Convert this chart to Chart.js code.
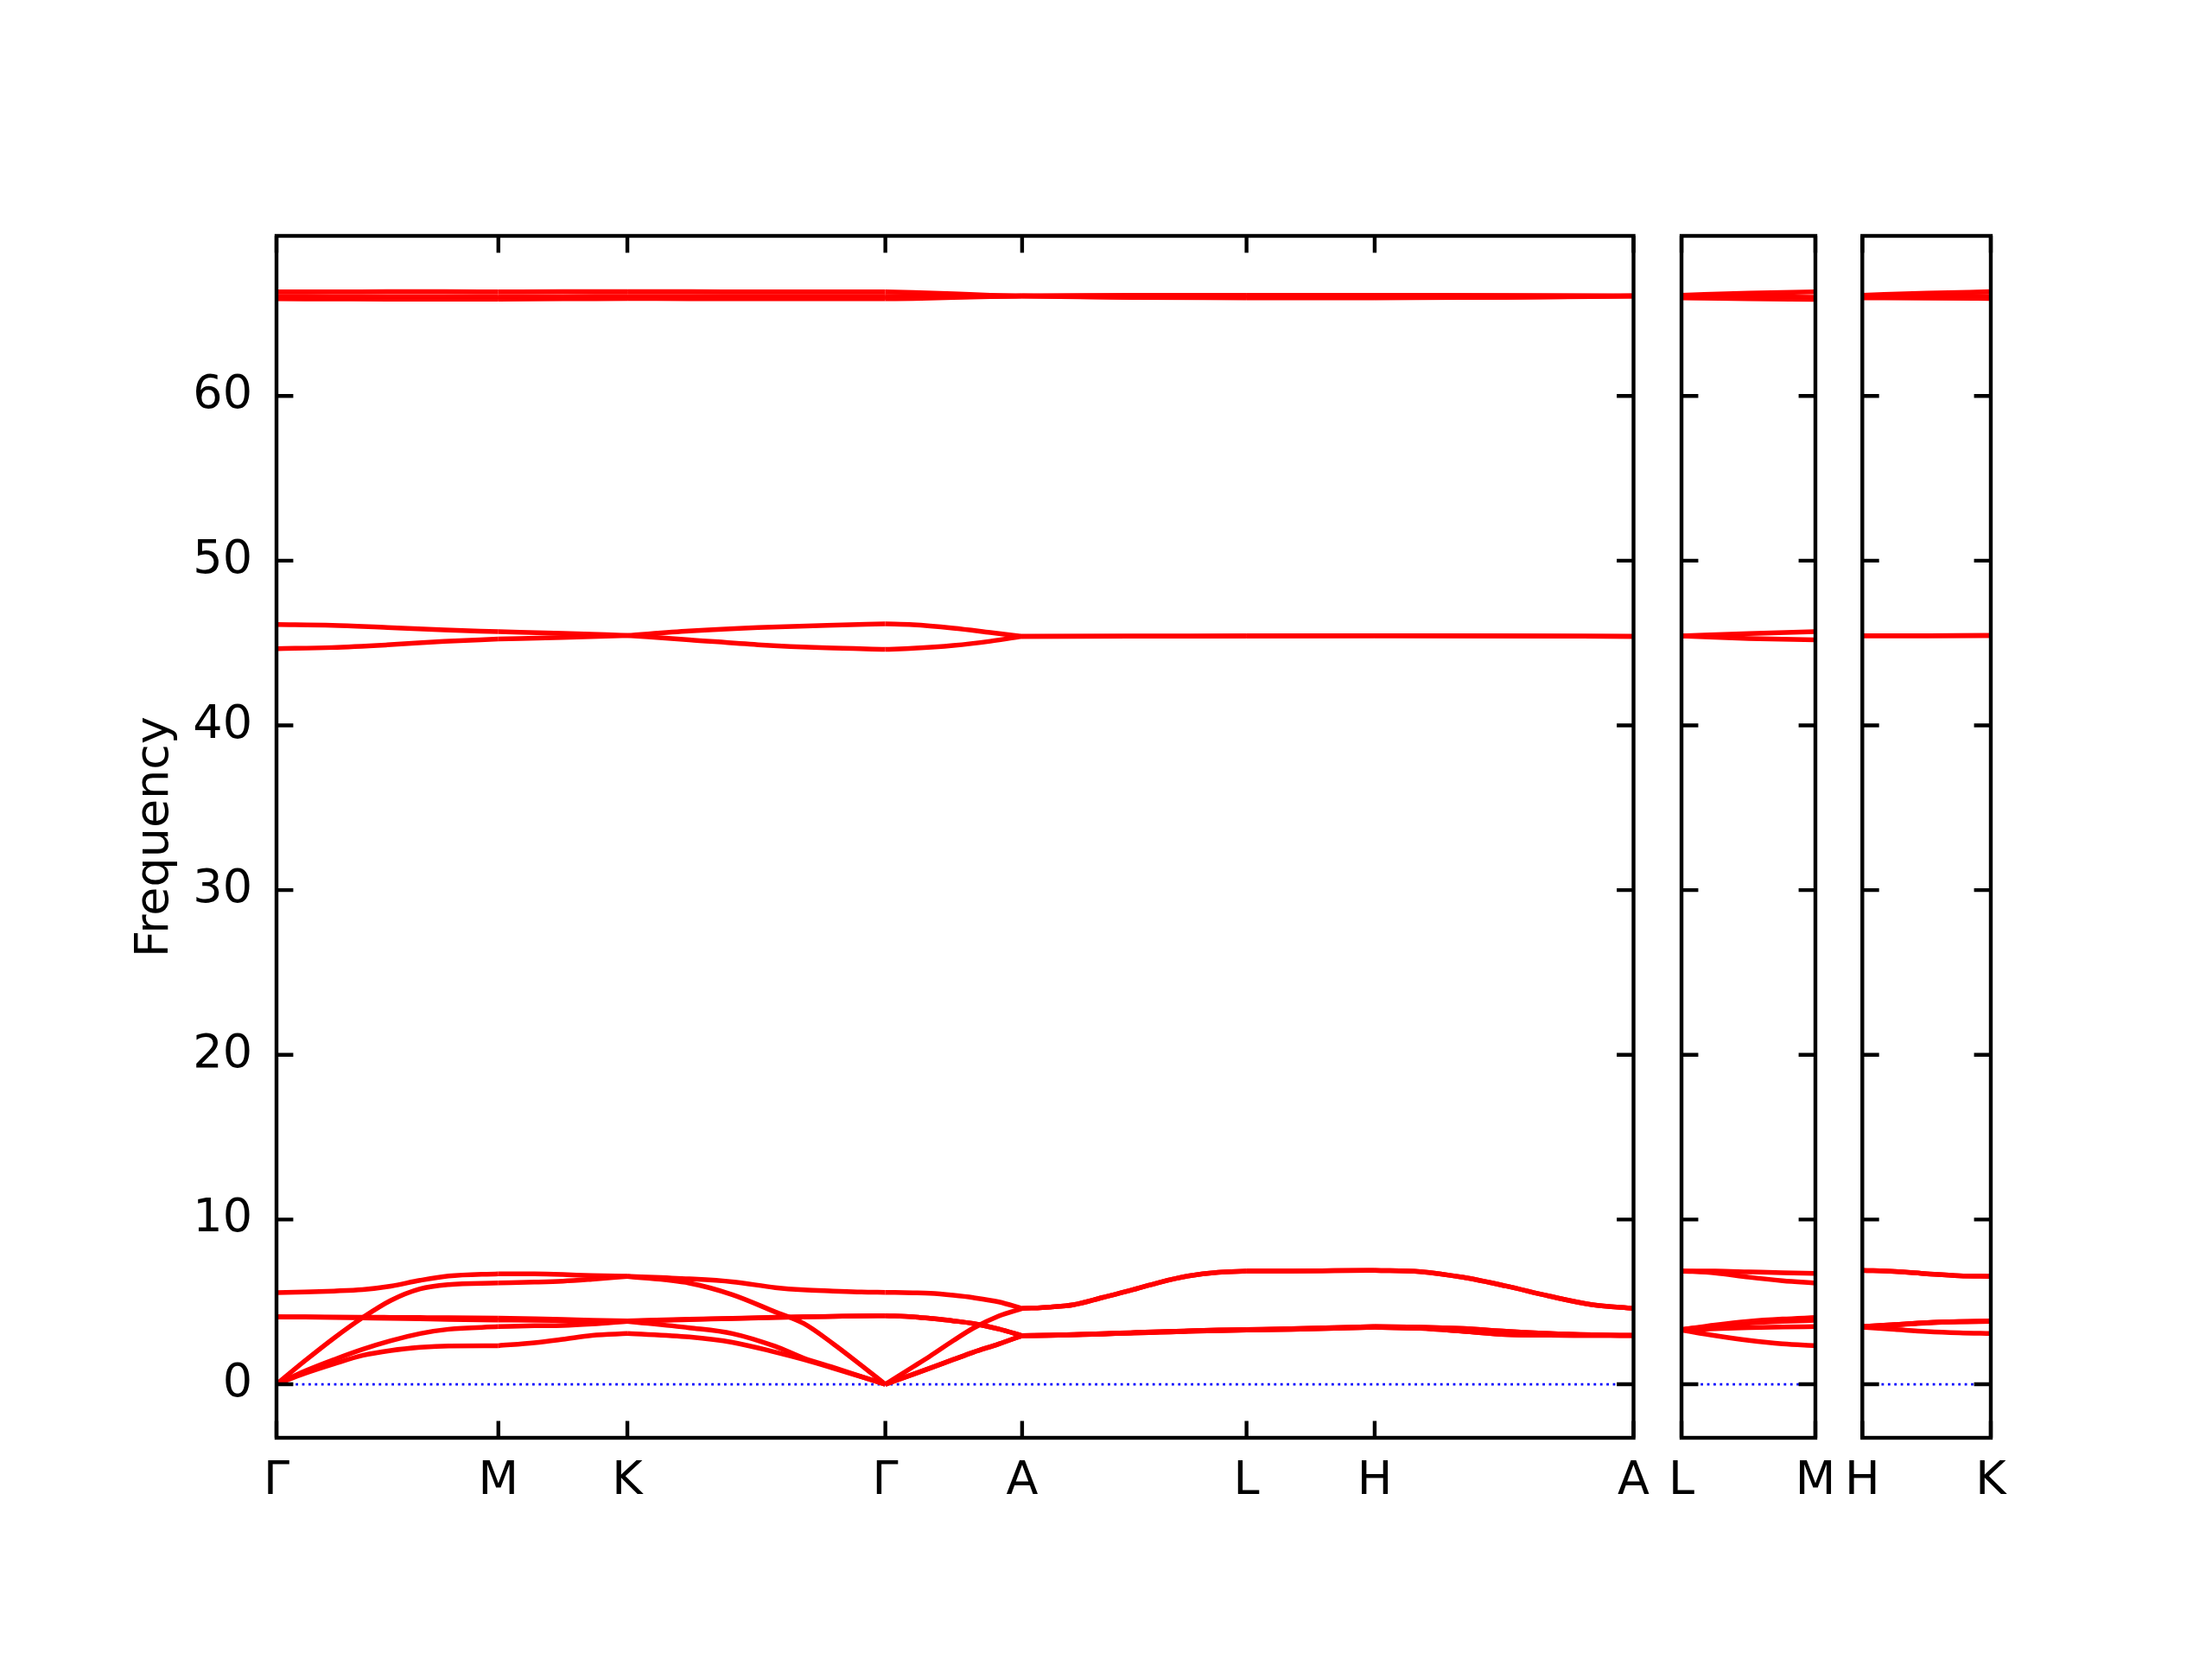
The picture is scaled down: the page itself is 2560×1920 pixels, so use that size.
<!DOCTYPE html>
<html>
<head>
<meta charset="utf-8">
<script src="https://cdn.jsdelivr.net/npm/chart.js@4.4.1/dist/chart.umd.min.js"></script>
<style>
  html, body { margin: 0; padding: 0; background: #fff; }
  #wrap { position: relative; width: 2560px; height: 1920px; background: #fff; }
  canvas { position: absolute; top: 0; }
</style>
</head>
<body>
<div id="wrap">
  <canvas id="p1" width="1920" height="1920" style="left:0px;width:1920px;height:1920px"></canvas>
  <canvas id="p2" width="220" height="1920" style="left:1920px;width:220px;height:1920px"></canvas>
  <canvas id="p3" width="220" height="1920" style="left:2124px;width:220px;height:1920px"></canvas>
</div>
<script>
// y axis
const yTicks = [0, 10, 20, 30, 40, 50, 60];
const yMin = -3.25;
const yMax = 69.72;

// high-symmetry points along the path
const mainTicks = [0, 0.258, 0.408, 0.708, 0.867, 1.128, 1.277, 1.578];
const mainLabels = ['Γ', 'M', 'K', 'Γ', 'A', 'L', 'H', 'A'];
const lmTicks = [0, 0.159];
const lmLabels = ['L', 'M'];
const hkTicks = [0, 0.159];
const hkLabels = ['H', 'K'];

// ---- panel 1 ----
// Γ - M
const gmX = [0, 0.033, 0.067, 0.100, 0.133, 0.167, 0.200, 0.258];
const gmLow = [
  [0, 0.66, 1.24, 1.75, 2.05, 2.24, 2.33, 2.34],
  [0, 0.80, 1.50, 2.12, 2.64, 3.08, 3.34, 3.50],
  [0, 1.42, 2.81, 4.04, 5.09, 5.79, 6.05, 6.15],
  [4.09, 4.09, 4.08, 4.07, 4.06, 4.05, 4.04, 4.02],
  [4.09, 4.08, 4.06, 4.03, 4.00, 3.97, 3.94, 3.90],
  [5.56, 5.60, 5.66, 5.75, 5.96, 6.31, 6.57, 6.71]
];
const gmHighX = [0, 0.065, 0.129, 0.195, 0.258];
const gmHigh = [
  [46.13, 46.08, 45.94, 45.80, 45.69],
  [44.66, 44.73, 44.89, 45.10, 45.25],
  [66.32, 66.32, 66.33, 66.33, 66.32],
  [66.05, 66.04, 66.03, 66.03, 66.03],
  [65.98, 65.97, 65.96, 65.95, 65.95],
  [65.90, 65.89, 65.88, 65.88, 65.88]
];

// M - K
const mkX = [0.258, 0.300, 0.333, 0.367, 0.408];
const mkLow = [
  [2.34, 2.52, 2.73, 2.97, 3.08],
  [3.50, 3.55, 3.57, 3.66, 3.82],
  [6.15, 6.20, 6.26, 6.38, 6.55],
  [4.02, 3.98, 3.94, 3.88, 3.84],
  [3.90, 3.88, 3.86, 3.84, 3.83],
  [6.71, 6.70, 6.66, 6.60, 6.56]
];
const mkHighX = [0.258, 0.333, 0.408];
const mkHigh = [
  [45.69, 45.59, 45.46],
  [45.25, 45.34, 45.46],
  [66.32, 66.33, 66.33],
  [66.03, 66.04, 66.05],
  [65.95, 65.96, 65.98],
  [65.88, 65.90, 65.92]
];

// K - Γ
const kgX = [0.408, 0.480, 0.530, 0.580, 0.613, 0.647, 0.680, 0.708];
const kgLow = [
  [3.08, 2.87, 2.55, 1.95, 1.50, 0.98, 0.45, 0],
  [3.82, 3.43, 3.08, 2.30, 1.59, 1.03, 0.47, 0],
  [6.55, 6.14, 5.44, 4.39, 3.69, 2.47, 1.15, 0],
  [3.84, 3.95, 4.00, 4.07, 4.09, 4.12, 4.15, 4.16],
  [3.83, 3.93, 3.99, 4.06, 4.09, 4.12, 4.15, 4.16],
  [6.56, 6.40, 6.22, 5.87, 5.73, 5.66, 5.60, 5.58]
];
const kgHighX = [0.408, 0.480, 0.560, 0.640, 0.708];
const kgHigh = [
  [45.46, 45.73, 45.94, 46.08, 46.16],
  [45.46, 45.20, 44.90, 44.71, 44.62],
  [66.33, 66.33, 66.32, 66.32, 66.32],
  [66.05, 66.05, 66.05, 66.05, 66.05],
  [65.98, 65.98, 65.98, 65.98, 65.98],
  [65.92, 65.91, 65.90, 65.90, 65.90]
];

// Γ - A
const gaX = [0.708, 0.740, 0.760, 0.787, 0.810, 0.840, 0.867];
const gaLow = [
  [0, 0.60, 0.98, 1.50, 1.94, 2.45, 2.95],
  [0, 0.60, 0.98, 1.50, 1.94, 2.45, 2.95],
  [0, 1.05, 1.71, 2.65, 3.40, 4.15, 4.60],
  [4.16, 4.10, 4.00, 3.85, 3.69, 3.35, 2.95],
  [4.16, 4.10, 4.00, 3.85, 3.69, 3.35, 2.95],
  [5.58, 5.55, 5.52, 5.40, 5.26, 5.00, 4.60]
];
const gaHighX = [0.708, 0.740, 0.787, 0.830, 0.867];
const gaHigh = [
  [46.16, 46.11, 45.90, 45.64, 45.41],
  [44.62, 44.68, 44.85, 45.11, 45.41],
  [66.32, 66.29, 66.21, 66.12, 66.07],
  [66.05, 66.05, 66.06, 66.07, 66.07],
  [65.98, 65.99, 66.02, 66.05, 66.07],
  [65.90, 65.92, 65.98, 66.03, 66.07]
];

// A - L
const alX = [0.867, 0.900, 0.927, 0.960, 0.993, 1.027, 1.060, 1.095, 1.128];
const alLow = [
  [2.95, 2.97, 3.00, 3.05, 3.11, 3.16, 3.21, 3.26, 3.29],
  [2.95, 2.97, 3.00, 3.05, 3.11, 3.16, 3.21, 3.26, 3.29],
  [4.60, 4.69, 4.83, 5.26, 5.70, 6.19, 6.57, 6.80, 6.87],
  [2.95, 2.98, 3.02, 3.07, 3.13, 3.19, 3.24, 3.29, 3.32],
  [2.95, 2.98, 3.02, 3.07, 3.13, 3.19, 3.24, 3.29, 3.32],
  [4.60, 4.69, 4.83, 5.26, 5.70, 6.19, 6.57, 6.80, 6.87]
];
const alHighX = [0.867, 0.997, 1.128];
const alHigh = [
  [45.41, 45.42, 45.43],
  [45.41, 45.42, 45.43],
  [66.07, 66.11, 66.12],
  [66.07, 66.09, 66.10],
  [66.07, 66.00, 65.98],
  [66.07, 65.98, 65.96]
];

// L - H
const lhX = [1.128, 1.180, 1.230, 1.277];
const lhLow = [
  [3.29, 3.33, 3.40, 3.46],
  [3.29, 3.33, 3.40, 3.46],
  [6.87, 6.88, 6.90, 6.92],
  [3.32, 3.37, 3.44, 3.50],
  [3.32, 3.37, 3.44, 3.50],
  [6.87, 6.88, 6.90, 6.92]
];
const lhHighX = [1.128, 1.277];
const lhHigh = [
  [45.43, 45.44],
  [45.43, 45.44],
  [66.12, 66.12],
  [66.10, 66.10],
  [65.98, 65.98],
  [65.96, 65.96]
];

// H - A
const haX = [1.277, 1.330, 1.380, 1.430, 1.480, 1.530, 1.578];
const haLow = [
  [3.46, 3.40, 3.22, 3.02, 2.98, 2.97, 2.96],
  [3.46, 3.40, 3.22, 3.02, 2.98, 2.97, 2.96],
  [6.92, 6.84, 6.49, 5.96, 5.35, 4.83, 4.60],
  [3.50, 3.47, 3.38, 3.22, 3.08, 3.00, 2.96],
  [3.50, 3.47, 3.38, 3.22, 3.08, 3.00, 2.96],
  [6.92, 6.84, 6.49, 5.96, 5.35, 4.83, 4.60]
];
const haHighX = [1.277, 1.430, 1.578];
const haHigh = [
  [45.44, 45.43, 45.41],
  [45.44, 45.43, 45.41],
  [66.12, 66.10, 66.07],
  [66.10, 66.09, 66.07],
  [65.98, 66.00, 66.07],
  [65.96, 65.99, 66.07]
];

// ---- panel 2: L - M ----
const lmX = [0, 0.040, 0.080, 0.120, 0.159];
const lmLow = [
  [6.88, 6.87, 6.82, 6.77, 6.73],
  [6.88, 6.76, 6.50, 6.29, 6.15],
  [3.32, 3.60, 3.82, 3.96, 4.05],
  [3.32, 3.55, 3.72, 3.82, 3.88],
  [3.29, 3.37, 3.44, 3.48, 3.50],
  [3.29, 2.95, 2.66, 2.45, 2.34]
];
const lmHighX = [0, 0.080, 0.159];
const lmHigh = [
  [45.43, 45.58, 45.69],
  [45.43, 45.28, 45.20],
  [66.12, 66.24, 66.32],
  [66.10, 66.04, 66.00],
  [65.98, 65.96, 65.95],
  [65.96, 65.91, 65.86]
];

// ---- panel 3: H - K ----
const hkX = [0, 0.040, 0.080, 0.120, 0.159];
const hkLow = [
  [6.92, 6.85, 6.71, 6.59, 6.55],
  [6.92, 6.85, 6.71, 6.59, 6.56],
  [3.50, 3.62, 3.74, 3.80, 3.84],
  [3.50, 3.62, 3.74, 3.80, 3.83],
  [3.46, 3.60, 3.72, 3.79, 3.82],
  [3.46, 3.33, 3.20, 3.12, 3.08]
];
const hkHighX = [0, 0.080, 0.159];
const hkHigh = [
  [45.44, 45.45, 45.46],
  [45.44, 45.45, 45.46],
  [66.12, 66.24, 66.33],
  [66.10, 66.07, 66.05],
  [65.98, 65.98, 65.98],
  [65.96, 65.94, 65.92]
];

const FONT = { family: 'DejaVu Sans', size: 54 };

function bandSets(xs, rows) {
  return rows.map(r => ({
    data: r.map((v, i) => ({ x: xs[i], y: v })),
    borderColor: '#ff0000',
    borderWidth: 5.5,
    pointRadius: 0,
    fill: false,
    cubicInterpolationMode: 'monotone',
    order: 0
  }));
}

function zeroLine(xMax) {
  return {
    data: [{ x: 0, y: 0 }, { x: xMax, y: 0 }],
    borderColor: '#0000ff',
    borderWidth: 2.8,
    borderDash: [2.8, 4.6],
    pointRadius: 0,
    fill: false,
    order: 1
  };
}

// frame and inward ticks on all four sides
const framePlugin = {
  id: 'frame',
  afterDatasetsDraw(chart) {
    const { ctx, chartArea: a, scales: { x, y } } = chart;
    const len = 19.4;
    ctx.save();
    ctx.strokeStyle = '#000';
    ctx.lineWidth = 4.4;
    ctx.beginPath();
    x.ticks.forEach(t => {
      const px = x.getPixelForValue(t.value);
      ctx.moveTo(px, a.bottom); ctx.lineTo(px, a.bottom - len);
      ctx.moveTo(px, a.top); ctx.lineTo(px, a.top + len);
    });
    y.ticks.forEach(t => {
      const py = y.getPixelForValue(t.value);
      ctx.moveTo(a.left, py); ctx.lineTo(a.left + len, py);
      ctx.moveTo(a.right, py); ctx.lineTo(a.right - len, py);
    });
    ctx.stroke();
    ctx.strokeRect(a.left, a.top, a.right - a.left, a.bottom - a.top);
    ctx.restore();
  }
};

function makePanel(id, padL, padR, xMax, ticks, labels, segs, showY) {
  let datasets = [zeroLine(xMax)];
  segs.forEach(s => { datasets = datasets.concat(bandSets(s[0], s[1])); });

  return new Chart(document.getElementById(id), {
    type: 'line',
    data: { datasets },
    options: {
      responsive: false,
      animation: false,
      devicePixelRatio: 1,
      events: [],
      layout: { autoPadding: false, padding: { left: padL, right: padR, top: 273, bottom: 0 } },
      plugins: { legend: { display: false }, tooltip: { enabled: false } },
      scales: {
        x: {
          type: 'linear', min: 0, max: xMax,
          grid: { display: false }, border: { display: false },
          afterBuildTicks: s => { s.ticks = ticks.map(v => ({ value: v })); },
          afterFit: s => { s.height = 256; },
          ticks: {
            autoSkip: false, maxRotation: 0, minRotation: 0, padding: 11,
            color: '#000', font: FONT,
            callback: (v, i) => labels[i]
          }
        },
        y: {
          type: 'linear', min: yMin, max: yMax, display: showY,
          grid: { display: false }, border: { display: false },
          afterBuildTicks: s => { s.ticks = yTicks.map(v => ({ value: v })); },
          afterFit: s => { if (showY) s.width = 320; },
          ticks: { padding: 20, color: '#000', font: FONT },
          title: {
            display: true, text: 'Frequency', color: '#000', font: FONT,
            padding: { top: 148, bottom: 0 }
          }
        }
      }
    },
    plugins: [framePlugin]
  });
}

makePanel('p1', 0, 22, 1.578, mainTicks, mainLabels, [
  [gmX, gmLow], [gmHighX, gmHigh],
  [mkX, mkLow], [mkHighX, mkHigh],
  [kgX, kgLow], [kgHighX, kgHigh],
  [gaX, gaLow], [gaHighX, gaHigh],
  [alX, alLow], [alHighX, alHigh],
  [lhX, lhLow], [lhHighX, lhHigh],
  [haX, haLow], [haHighX, haHigh]
], true);

makePanel('p2', 22, 39, 0.159, lmTicks, lmLabels, [[lmX, lmLow], [lmHighX, lmHigh]], false);
makePanel('p3', 21, 40, 0.159, hkTicks, hkLabels, [[hkX, hkLow], [hkHighX, hkHigh]], false);
</script>
</body>
</html>
